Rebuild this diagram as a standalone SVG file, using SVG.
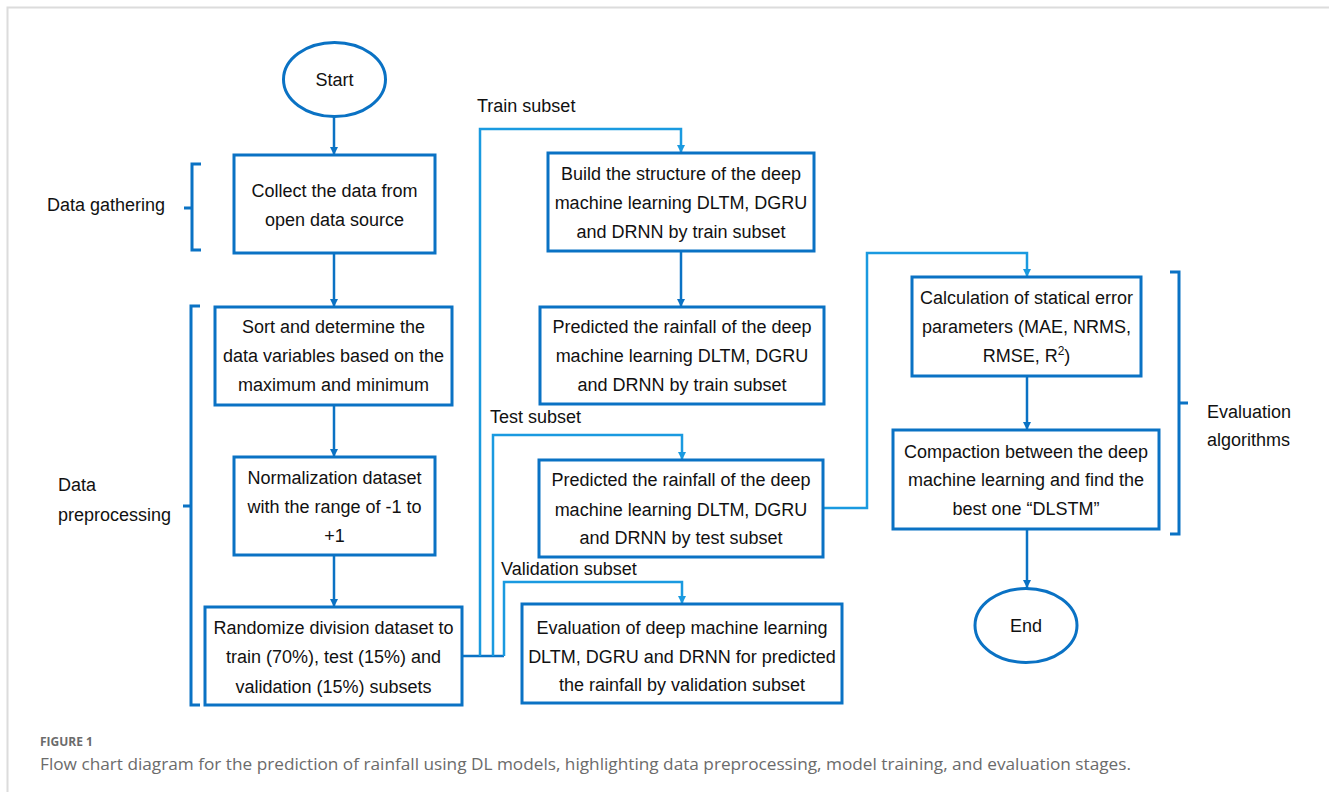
<svg xmlns="http://www.w3.org/2000/svg" width="1329" height="792" viewBox="0 0 1329 792">
<defs>
<style>
.box{fill:#fff;stroke:#0a72c4;stroke-width:3}
.t{font-family:"Liberation Sans",Arial,sans-serif;font-size:18px;fill:#111;text-anchor:middle}
.lbl{font-family:"Liberation Sans",Arial,sans-serif;font-size:18px;fill:#111}
.main{fill:none;stroke:#0a72c4;stroke-width:2.5}
.sub{fill:none;stroke:#1a9ae0;stroke-width:2.5}
.br{fill:none;stroke:#0a72c4;stroke-width:3}
.cap{font-family:"Open Sans","Liberation Sans",sans-serif;fill:#6b6b6b}
</style>
<marker id="am" viewBox="0 0 8 8" refX="8" refY="4" markerWidth="8" markerHeight="8" markerUnits="userSpaceOnUse" orient="auto"><path d="M0,0 L8,4 L0,8 z" fill="#0a72c4"/></marker>
<marker id="as" viewBox="0 0 8 8" refX="8" refY="4" markerWidth="8" markerHeight="8" markerUnits="userSpaceOnUse" orient="auto"><path d="M0,0 L8,4 L0,8 z" fill="#1a9ae0"/></marker>
</defs>
<rect x="0" y="0" width="1329" height="792" fill="#fff"/>
<path d="M7.5,792 V7.5 H1329" fill="none" stroke="#dcdcdc" stroke-width="2"/>

<g id="connectors">
<line class="main" x1="334" y1="117" x2="334" y2="155" marker-end="url(#am)"/>
<line class="main" x1="334" y1="253" x2="334" y2="307" marker-end="url(#am)"/>
<line class="main" x1="334" y1="405" x2="334" y2="457" marker-end="url(#am)"/>
<line class="main" x1="334" y1="555" x2="334" y2="607" marker-end="url(#am)"/>
<line class="main" x1="681" y1="251" x2="681" y2="307" marker-end="url(#am)"/>
<line class="main" x1="1027" y1="376" x2="1027" y2="430" marker-end="url(#am)"/>
<line class="main" x1="1027" y1="529" x2="1027" y2="588" marker-end="url(#am)"/>
<path class="main" d="M462,656 H504"/>
<path class="sub" d="M480,656 V129 H681 V153" marker-end="url(#as)"/>
<path class="sub" d="M493,656 V435 H682 V460" marker-end="url(#as)"/>
<path class="sub" d="M504,656 V582 H682 V604" marker-end="url(#as)"/>
<path class="sub" d="M823,508 H867 V253 H1027 V277" marker-end="url(#as)"/>
</g>

<g id="start">
<ellipse cx="334.5" cy="79.5" rx="51" ry="37" fill="#fff" stroke="#0a72c4" stroke-width="3"/>
<text class="t" x="334.5" y="86">Start</text>
</g>

<g id="collect">
<rect class="box" x="234" y="155" width="201" height="98"/>
<text class="t" x="334.5" y="197">Collect the data from</text>
<text class="t" x="334.5" y="226">open data source</text>
</g>

<g id="sort">
<rect class="box" x="215" y="307" width="237" height="98"/>
<text class="t" x="333.5" y="333">Sort and determine the</text>
<text class="t" x="333.5" y="362">data variables based on the</text>
<text class="t" x="333.5" y="391">maximum and minimum</text>
</g>

<g id="normalize">
<rect class="box" x="234" y="457" width="201" height="98"/>
<text class="t" x="334.5" y="484">Normalization dataset</text>
<text class="t" x="334.5" y="513">with the range of -1 to</text>
<text class="t" x="334.5" y="542">+1</text>
</g>

<g id="randomize">
<rect class="box" x="205" y="607" width="257" height="98"/>
<text class="t" x="333.5" y="634">Randomize division dataset to</text>
<text class="t" x="333.5" y="663">train (70%), test (15%) and</text>
<text class="t" x="333.5" y="693">validation (15%) subsets</text>
</g>

<g id="build">
<rect class="box" x="548" y="153" width="266" height="98"/>
<text class="t" x="681" y="180">Build the structure of the deep</text>
<text class="t" x="681" y="209">machine learning DLTM, DGRU</text>
<text class="t" x="681" y="238">and DRNN by train subset</text>
</g>

<g id="predict-train">
<rect class="box" x="540" y="307" width="284" height="97"/>
<text class="t" x="682" y="333">Predicted the rainfall of the deep</text>
<text class="t" x="682" y="362">machine learning DLTM, DGRU</text>
<text class="t" x="682" y="391">and DRNN by train subset</text>
</g>

<g id="predict-test">
<rect class="box" x="539" y="460" width="284" height="97"/>
<text class="t" x="681" y="486">Predicted the rainfall of the deep</text>
<text class="t" x="681" y="516">machine learning DLTM, DGRU</text>
<text class="t" x="681" y="544">and DRNN by test subset</text>
</g>

<g id="evaluate-validation">
<rect class="box" x="522" y="604" width="320" height="99"/>
<text class="t" x="682" y="634">Evaluation of deep machine learning</text>
<text class="t" x="682" y="663">DLTM, DGRU and DRNN for predicted</text>
<text class="t" x="682" y="691">the rainfall by validation subset</text>
</g>

<g id="calculation">
<rect class="box" x="912" y="277" width="229" height="99"/>
<text class="t" x="1026.5" y="304">Calculation of statical error</text>
<text class="t" x="1026.5" y="333">parameters (MAE, NRMS,</text>
<text class="t" x="1026.5" y="362">RMSE, R<tspan font-size="12" dy="-7">2</tspan><tspan dy="7">)</tspan></text>
</g>

<g id="compaction">
<rect class="box" x="893" y="430" width="266" height="99"/>
<text class="t" x="1026" y="458">Compaction between the deep</text>
<text class="t" x="1026" y="486">machine learning and find the</text>
<text class="t" x="1026" y="515">best one “DLSTM”</text>
</g>

<g id="end">
<ellipse cx="1026" cy="625.5" rx="51" ry="37" fill="#fff" stroke="#0a72c4" stroke-width="3"/>
<text class="t" x="1026" y="632">End</text>
</g>

<g id="labels">
<text class="lbl" x="477" y="112">Train subset</text>
<text class="lbl" x="490" y="423">Test subset</text>
<text class="lbl" x="501" y="575">Validation subset</text>
</g>

<g id="data-gathering">
<path class="br" d="M201,164 H192 V250 H201 M192,208 H184"/>
<text class="lbl" x="47" y="211">Data gathering</text>
</g>

<g id="data-preprocessing">
<path class="br" d="M200,306 H191 V705 H200 M191,506 H183"/>
<text class="lbl" x="58" y="491">Data</text>
<text class="lbl" x="58" y="521">preprocessing</text>
</g>

<g id="evaluation-algorithms">
<path class="br" d="M1170,272 H1179 V534 H1170 M1179,403 H1188"/>
<text class="lbl" x="1207" y="418">Evaluation</text>
<text class="lbl" x="1207" y="446">algorithms</text>
</g>

<g id="caption">
<text class="cap" x="40" y="746" font-size="12" font-weight="bold">FIGURE 1</text>
<text class="cap" x="40" y="770" font-size="16" textLength="1091" lengthAdjust="spacingAndGlyphs">Flow chart diagram for the prediction of rainfall using DL models, highlighting data preprocessing, model training, and evaluation stages.</text>
</g>
</svg>
